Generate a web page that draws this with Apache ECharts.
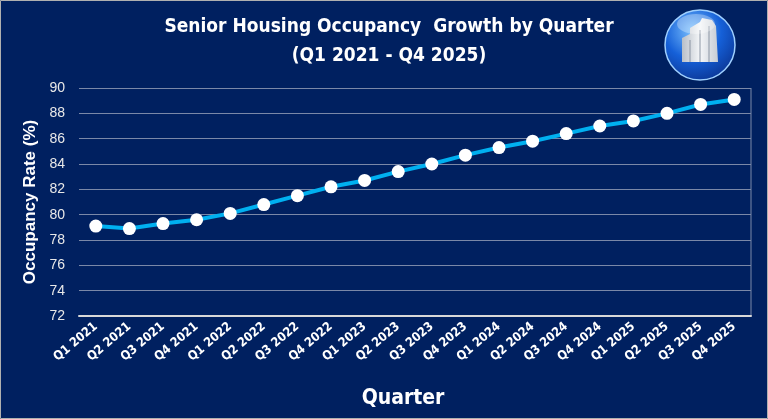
<!DOCTYPE html>
<html>
<head>
<meta charset="utf-8">
<script src="https://cdn.jsdelivr.net/npm/echarts@6/dist/echarts.min.js"></script>
<style>
html,body{margin:0;padding:0;background:#002060;}
#c{width:768px;height:419px;}
</style>
</head>
<body>
<div id="c"></div>
<script>
const categories = ['Q1 2021','Q2 2021','Q3 2021','Q4 2021','Q1 2022','Q2 2022','Q3 2022','Q4 2022','Q1 2023','Q2 2023','Q3 2023','Q4 2023','Q1 2024','Q2 2024','Q3 2024','Q4 2024','Q1 2025','Q2 2025','Q3 2025','Q4 2025'];
const occupancy = [79.1,78.9,79.3,79.6,80.1,80.8,81.5,82.2,82.7,83.4,84.0,84.7,85.3,85.8,86.4,87.0,87.4,88.0,88.7,89.1];
const yTicks = {min:72, max:90, interval:2};

const narrow = '"DejaVu Sans Condensed","Liberation Sans Narrow",sans-serif';
const chart = echarts.init(document.getElementById('c'));
chart.setOption({
  backgroundColor:'#002060',
  animation:false,
  title:{
    text:'Senior Housing Occupancy  Growth by Quarter\n(Q1 2021 - Q4 2025)',
    left:384, top:8, textAlign:'center',
    textStyle:{color:'#ffffff', fontFamily:narrow, fontWeight:'bold', fontSize:19, lineHeight:29}
  },
  graphic:[
    {type:'rect', shape:{x:0.5,y:0.5,width:767,height:418}, style:{fill:'none', stroke:'#b0b0b0', lineWidth:1}, silent:true},
    {type:'line', shape:{x1:751,y1:88,x2:751,y2:316}, style:{stroke:'#7a88a8', lineWidth:1}, silent:true},
    {type:'circle', shape:{cx:700, cy:45, r:35}, style:{
      fill:new echarts.graphic.RadialGradient(0.4,0.3,0.8,[{offset:0,color:'#7cc2ff'},{offset:0.5,color:'#1560d8'},{offset:1,color:'#0a2f8a'}]),
      stroke:'#9fd0ff', lineWidth:1.5}},
    {type:'polygon', shape:{points:[[682,62],[682,38],[690,34],[690,28],[700,22],[702,18],[712,20],[716,26],[718,62]]}, style:{
      fill:new echarts.graphic.LinearGradient(0,0,1,0,[{offset:0,color:'#b8bfc8'},{offset:0.5,color:'#f4f6f8'},{offset:1,color:'#c6ccd4'}])}},
    {type:'line', shape:{x1:690,y1:40,x2:690,y2:62}, style:{stroke:'#8c96a4', lineWidth:1}},
    {type:'line', shape:{x1:700,y1:30,x2:700,y2:62}, style:{stroke:'#8c96a4', lineWidth:1}},
    {type:'line', shape:{x1:709,y1:26,x2:709,y2:62}, style:{stroke:'#8c96a4', lineWidth:1}},
    {type:'ellipse', shape:{cx:696, cy:24, rx:19, ry:10}, style:{fill:'rgba(255,255,255,0.3)'}}
  ],
  grid:{left:79, right:17, top:88, bottom:103},
  xAxis:{
    type:'category', data:categories, boundaryGap:true,
    name:'Quarter', nameLocation:'middle', nameGap:72,
    nameTextStyle:{color:'#ffffff', fontFamily:narrow, fontWeight:'bold', fontSize:21, padding:[0,24,0,0]},
    axisLine:{lineStyle:{color:'#d9d9d9', width:2}},
    axisTick:{show:false},
    axisLabel:{color:'#ffffff', rotate:40, fontFamily:narrow, fontWeight:'bold', fontSize:12.5, margin:9, interval:0}
  },
  yAxis:{
    type:'value', min:yTicks.min, max:yTicks.max, interval:yTicks.interval,
    name:'Occupancy Rate (%)', nameLocation:'middle', nameGap:35,
    nameTextStyle:{color:'#ffffff', fontFamily:'"Liberation Sans",Arial,sans-serif', fontWeight:'bold', fontSize:17},
    axisLine:{show:false}, axisTick:{show:false},
    axisLabel:{color:'#e8e8e8', fontFamily:'"Liberation Sans",Arial,sans-serif', fontSize:14, margin:14},
    splitLine:{lineStyle:{color:'#7a88a8', width:1}}
  },
  series:[{
    type:'line', data:occupancy,
    lineStyle:{color:'#00B0F0', width:4},
    symbol:'circle', symbolSize:13,
    itemStyle:{color:'#ffffff', borderWidth:0}
  }]
});
</script>
</body>
</html>
